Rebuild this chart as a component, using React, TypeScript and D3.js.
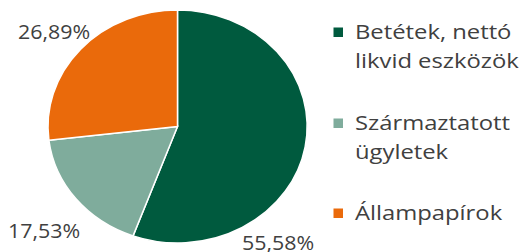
import React from 'react';
import { pie, arc, PieArcDatum } from 'd3';

const labels = ['Betétek, nettó likvid eszközök', 'Származtatott ügyletek', 'Állampapírok'];
const legendLines = [['Betétek, nettó', 'likvid eszközök'], ['Származtatott', 'ügyletek'], ['Állampapírok']];
const values = [55.58, 17.53, 26.89];
const valueLabels = ['55,58%', '17,53%', '26,89%'];
const colors = ['#005a3e', '#7fac9c', '#ea6a0b'];

// label positions relative to the pie, in unit-ellipse coordinates
const labelAnchors: [number, number][] = [[0.498, 1.06], [-1.309, 0.957], [-1.232, -0.755]];

export default function App() {
  const width = 520, height = 252;
  const cx = 177.5, cy = 126.5;
  const rx = 129.5, ry = 116.5;

  const pieGen = pie<number>().sort(null).value(d => d);
  const arcs = pieGen(values);
  const arcGen = arc<PieArcDatum<number>>().innerRadius(0).outerRadius(1);

  const legendY = [39, 130, 220];

  return (
    <svg width={width} height={height} style={{ position: 'absolute', left: 0, top: 0 }}
      fontFamily="'Open Sans', sans-serif">
      <g transform={`translate(${cx},${cy}) scale(${rx},${ry})`}>
        {arcs.map((a, i) => (
          <path key={i} d={arcGen(a) || ''} fill={colors[i]} stroke="#fff"
            strokeWidth={1.5} vectorEffect="non-scaling-stroke" />
        ))}
      </g>
      {arcs.map((a, i) => (
        <text key={i}
          transform={`translate(${cx + labelAnchors[i][0] * rx},${cy + labelAnchors[i][1] * ry}) scale(1.07,1)`}
          fontSize={20} fill="#404040">{valueLabels[i]}</text>
      ))}
      {labels.map((l, i) => (
        <g key={l}>
          <rect x={333.5} y={legendY[i] - 11.5} width={9.5} height={9.5} fill={colors[i]} />
          {legendLines[i].map((t, j) => (
            <text key={j} transform={`translate(355,${legendY[i] + j * 29}) scale(1.19,1)`}
              fontSize={20} fill="#404040">{t}</text>
          ))}
        </g>
      ))}
    </svg>
  );
}
